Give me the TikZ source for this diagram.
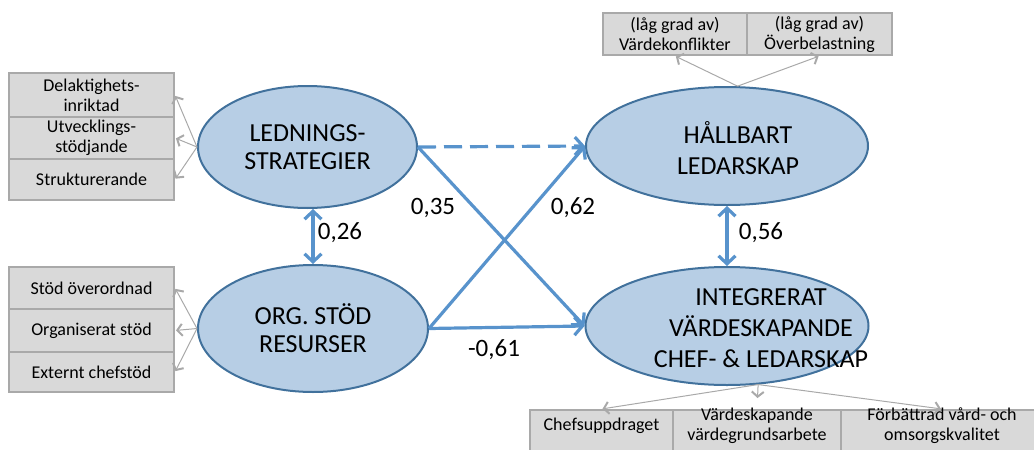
\documentclass[tikz,border=0pt]{standalone}
\usepackage{fontspec}
\setmainfont{Carlito}
\usetikzlibrary{shapes.geometric,arrows.meta}
\definecolor{latfill}{HTML}{B7CEE5}
\definecolor{latedge}{HTML}{41719C}
\definecolor{pathblue}{HTML}{5893CC}
\definecolor{indfill}{HTML}{D9D9D9}
\definecolor{indedge}{HTML}{A9A9A9}
\tikzset{
  latent/.style={ellipse,draw=latedge,fill=latfill,line width=2pt,inner sep=0pt,
    font=\fontsize{26}{28}\selectfont,align=center},
  lattext/.style={font=\fontsize{26}{31}\selectfont,align=center,inner sep=0pt},
  indic/.style={rectangle,draw=indedge,fill=indfill,line width=2pt,inner sep=0pt,
    font=\fontsize{18}{20}\selectfont,align=center},
  indtext/.style={font=\fontsize{18}{20}\selectfont,align=center,inner sep=0pt},
  load/.style={draw=indedge,line width=1pt,shorten >=1pt,
    -{Straight Barb[length=5pt,width=12pt,line width=2pt]}},
  effect/.style={draw=pathblue,line width=3.2pt,-{Straight Barb[length=8pt,width=18pt]}},
  corr/.style={effect,{Straight Barb[length=8pt,width=17pt]}-{Straight Barb[length=8pt,width=17pt]}},
  coef/.style={font=\fontsize{25}{28}\selectfont,inner sep=0pt}
}
\begin{document}
\begin{tikzpicture}[x=1pt,y=-1pt]
\useasboundingbox (0,0) rectangle (1034,450);
\clip (0,0) rectangle (1034,450);

% indicator boxes, left
\node[indic,minimum width=165pt,minimum height=44pt](del) at (91.5,95) {Delaktighets-\\inriktad};
\node[indic,minimum width=165pt,minimum height=42pt](utv) at (91.5,138) {Utvecklings-\\stödjande};
\node[indic,minimum width=165pt,minimum height=41pt](str) at (91.5,179.5) {Strukturerande};
\node[indic,minimum width=165pt,minimum height=42pt](sto) at (91.5,288) {Stöd överordnad};
\node[indic,minimum width=165pt,minimum height=43pt](ors) at (91.5,330.5) {Organiserat stöd};
\node[indic,minimum width=165pt,minimum height=40pt](ext) at (91.5,372) {Externt chefstöd};

% indicator boxes, top and bottom
\node[indic,minimum width=144pt,minimum height=42pt](vko) at (675,34) {(låg grad av)\\Värdekonflikter};
\node[indic,minimum width=145pt,minimum height=42pt](obl) at (819.5,34) {(låg grad av)\\Överbelastning};
\node[indic,minimum width=143pt,minimum height=60pt,anchor=north](chu) at (601.5,409) {};
\node[indic,minimum width=168pt,minimum height=60pt,anchor=north](vga) at (757,409) {};
\node[indic,minimum width=202pt,minimum height=60pt,anchor=north](fvo) at (942,409) {};
\node[indtext](chuT) at (601.5,426) {Chefsuppdraget};
\node[indtext](vgaT) at (757,426) {Värdeskapande\\värdegrundsarbete};
\node[indtext](fvoT) at (942,426) {Förbättrad vård- och\\omsorgskvalitet};

% latent variables
\node[latent,minimum width=219pt,minimum height=122pt](led) at (307.5,147) {LEDNINGS-\\STRATEGIER};
\node[latent,minimum width=230pt,minimum height=127pt](org) at (313,328.5) {ORG. STÖD\\RESURSER};
\node[latent,minimum width=282pt,minimum height=118pt](hll) at (727,146) {};
\node[latent,minimum width=283pt,minimum height=118pt](ivc) at (727,326) {};
\node[lattext](hllT) at (738,148) {HÅLLBART\\LEDARSKAP};
\node[lattext](ivcT) at (761,328) {INTEGRERAT\\VÄRDESKAPANDE\\CHEF- \& LEDARSKAP};

% loadings
\foreach \b in {del,utv,str} \draw[load] (led.west) -- (\b.east);
\foreach \b in {sto,ors,ext} \draw[load] (org.west) -- (\b.east);
\foreach \b in {vko,obl} \draw[load] (hll.80) -- (\b.south);
\draw[load] (ivc.-62) -- (chu.north);
\draw[load,shorten >=11pt] (ivc.-62) -- (vga.north);
\draw[load] (ivc.-62) -- (fvo.north);

% structural paths
\draw[effect,dash pattern=on 18pt off 8pt] (led.east) -- (hll.west);
\draw[effect] (led.east) -- (ivc.west);
\draw[effect] (org.east) -- (hll.west);
\draw[effect] (org.east) -- (ivc.west);
\draw[corr] (org.north) -- (org.north |- led.south);
\draw[corr] (hll.south) -- (ivc.north);

\node[coef](c26) at (340,233) {0,26};
\node[coef](c35) at (433,208) {0,35};
\node[coef](c62) at (573,208) {0,62};
\node[coef](c61) at (494,350) {-0,61};
\node[coef](c56) at (761,233) {0,56};
\end{tikzpicture}
\end{document}
